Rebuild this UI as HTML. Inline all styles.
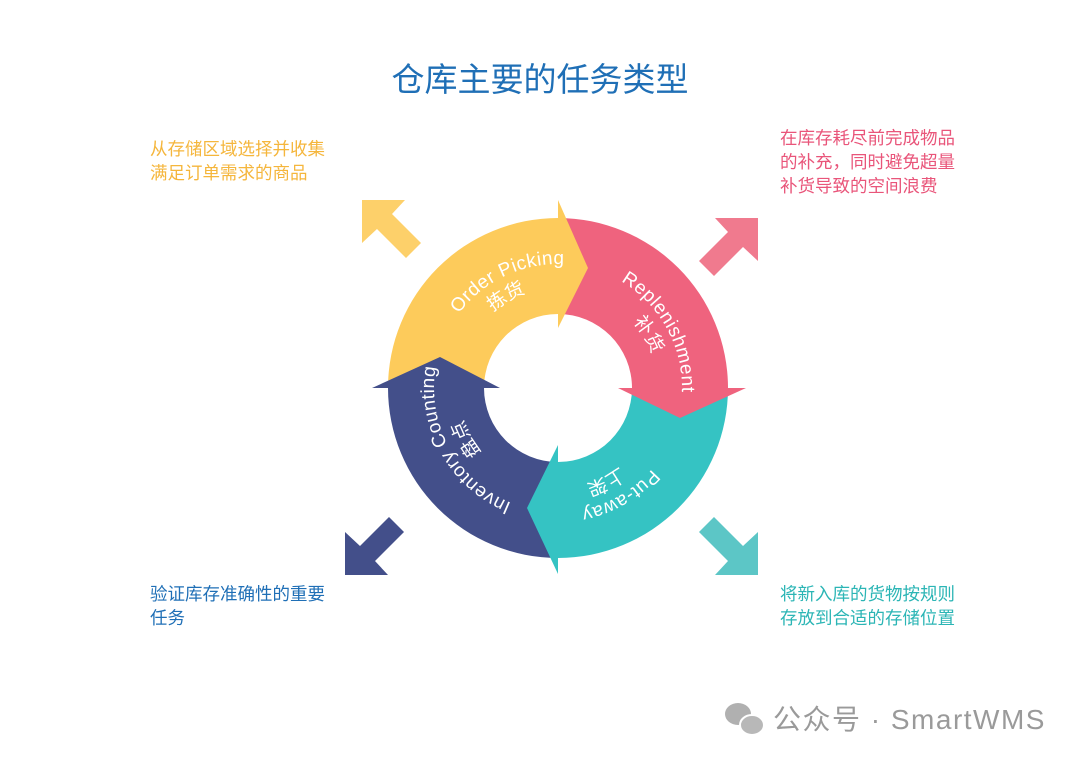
<!DOCTYPE html>
<html><head><meta charset="utf-8"><style>
body{margin:0;width:1080px;height:764px;background:#fff;overflow:hidden;position:relative;font-family:"Liberation Sans","Noto Sans CJK SC",sans-serif}
.t{position:absolute;font-size:17.5px;line-height:24px;white-space:nowrap}
</style></head><body>
<div class="t" style="left:0;width:1080px;text-align:center;top:58px;font-size:33px;line-height:44px;color:#1f6fb6">仓库主要的任务类型</div>
<div class="t" style="left:150px;top:137px;color:#f5b63c">从存储区域选择并收集<br>满足订单需求的商品</div>
<div class="t" style="left:780px;top:126px;color:#e9557a">在库存耗尽前完成物品<br>的补充，同时避免超量<br>补货导致的空间浪费</div>
<div class="t" style="left:150px;top:582px;color:#1f6fb6">验证库存准确性的重要<br>任务</div>
<div class="t" style="left:780px;top:582px;color:#2bb5b5">将新入库的货物按规则<br>存放到合适的存储位置</div>
<div class="t" style="left:773px;top:702px;font-size:28px;line-height:36px;color:#9a9a9a;letter-spacing:1.5px">公众号 · SmartWMS</div>
<svg width="1080" height="764" style="position:absolute;left:0;top:0">
<g><ellipse cx="738" cy="714" rx="13" ry="11" fill="#b0b0b0"/><ellipse cx="752" cy="725" rx="12" ry="10" fill="#b8b8b8" stroke="#fff" stroke-width="2"/></g>
<g transform="translate(558,388)">
<path d="M-170,0 A170,170 0 0 1 0,-170 L0,-74 A74,74 0 0 0 -74,0Z" fill="#fdcb5b"/>
<path d="M0,-170 A170,170 0 0 1 170,0 L74,0 A74,74 0 0 0 0,-74Z" fill="#ef637e"/>
<path d="M170,0 A170,170 0 0 1 0,170 L0,74 A74,74 0 0 0 74,0Z" fill="#35c3c3"/>
<path d="M0,170 A170,170 0 0 1 -170,0 L-74,0 A74,74 0 0 0 0,74Z" fill="#434f8a"/>
<path d="M0,-188 L30,-120 L0,-60Z" fill="#fdcb5b"/>
<path d="M188,0 L122,30 L60,0Z" fill="#ef637e"/>
<path d="M0,186 L-31,120 L0,57Z" fill="#35c3c3"/>
<path d="M-186,0 L-118,-31 L-58,0Z" fill="#434f8a"/>
<defs>
<path id="c1" d="M0,124 A124,124 0 0 1 0,-124 A124,124 0 0 1 0,124"/>
<path id="c2" d="M0,100 A100,100 0 0 1 0,-100 A100,100 0 0 1 0,100"/>
</defs>
<g fill="#fff" font-size="19" font-family="Liberation Sans, sans-serif" text-anchor="middle" letter-spacing="0.5">
<text><textPath href="#c1" startOffset="335">Order Picking</textPath></text>
<text><textPath href="#c1" startOffset="522">Replenishment</textPath></text>
<text><textPath href="#c1" startOffset="714">Put-away</textPath></text>
<text><textPath href="#c1" startOffset="132">Inventory Counting</textPath></text>
</g>
<g fill="#fff" font-size="19" font-family="Noto Sans CJK SC, sans-serif" text-anchor="middle">
<text><textPath href="#c2" startOffset="262">拣货</textPath></text>
<text><textPath href="#c2" startOffset="417">补货</textPath></text>
<text><textPath href="#c2" startOffset="580">上架</textPath></text>
<text><textPath href="#c2" startOffset="106">盘点</textPath></text>
</g>
</g>
<g>
<polygon transform="translate(362,200)" points="0,0 43,0 30,14 59,43 44,58 15,29 0,43" fill="#fdd06a"/>
<polygon transform="translate(758,218) scale(-1,1)" points="0,0 43,0 30,14 59,43 44,58 15,29 0,43" fill="#f07a8e"/>
<polygon transform="translate(345,575) scale(1,-1)" points="0,0 43,0 30,14 59,43 44,58 15,29 0,43" fill="#434f8a"/>
<polygon transform="translate(758,575) scale(-1,-1)" points="0,0 43,0 30,14 59,43 44,58 15,29 0,43" fill="#5cc6c6"/>
</g>
</svg>
</body></html>
